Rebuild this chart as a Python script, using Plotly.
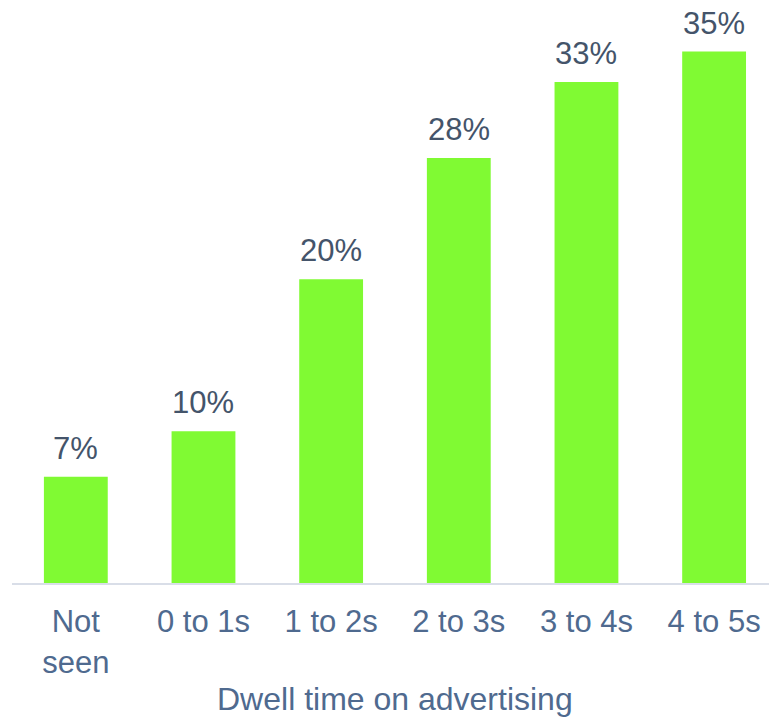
import plotly.graph_objects as go

# Share of viewers by dwell time on advertising
categories = ["Not<br>seen", "0 to 1s", "1 to 2s", "2 to 3s", "3 to 4s", "4 to 5s"]
values = [7, 10, 20, 28, 33, 35]
value_labels = [f"{v}%" for v in values]
x_title = "Dwell time on advertising"

FONT = "Liberation Sans, Arial, sans-serif"
BAR_COLOR = "#80FA33"
LABEL_COLOR = "#44546A"
AXIS_TEXT_COLOR = "#4F6A8F"

xs = list(range(len(categories)))

fig = go.Figure(
    go.Bar(
        x=xs,
        y=values,
        marker=dict(color=BAR_COLOR, line=dict(width=0)),
        hoverinfo="skip",
    )
)

# Value labels above each bar
for x, v, t in zip(xs, values, value_labels):
    fig.add_annotation(
        x=x, y=v, xref="x", yref="y",
        text=t, showarrow=False,
        yanchor="bottom", yshift=9,
        font=dict(family=FONT, size=31, color=LABEL_COLOR),
    )

# Axis title centred under the categories
fig.add_annotation(
    x=(len(categories) - 1) / 2, y=0, xref="x", yref="paper",
    text=x_title, showarrow=False,
    yanchor="top", yshift=-96,
    font=dict(family=FONT, size=32, color=AXIS_TEXT_COLOR),
)

fig.update_layout(
    width=769, height=719,
    margin=dict(l=12, r=0, t=0, b=136),
    paper_bgcolor="white", plot_bgcolor="white",
    bargap=0.5,
    showlegend=False,
    font=dict(family=FONT),
)
fig.update_xaxes(
    range=[-0.5, 5.43],
    tickmode="array", tickvals=xs, ticktext=categories,
    tickfont=dict(family=FONT, size=31, color=AXIS_TEXT_COLOR),
    showline=True, linecolor="#D9DEE8", linewidth=2,
    showgrid=False, zeroline=False, ticks="",
    ticklabelstandoff=10,
)
fig.update_yaxes(
    range=[0, 38.4],
    visible=False, showgrid=False, zeroline=False,
)

fig.write_html("out.html", config={"displayModeBar": False})
